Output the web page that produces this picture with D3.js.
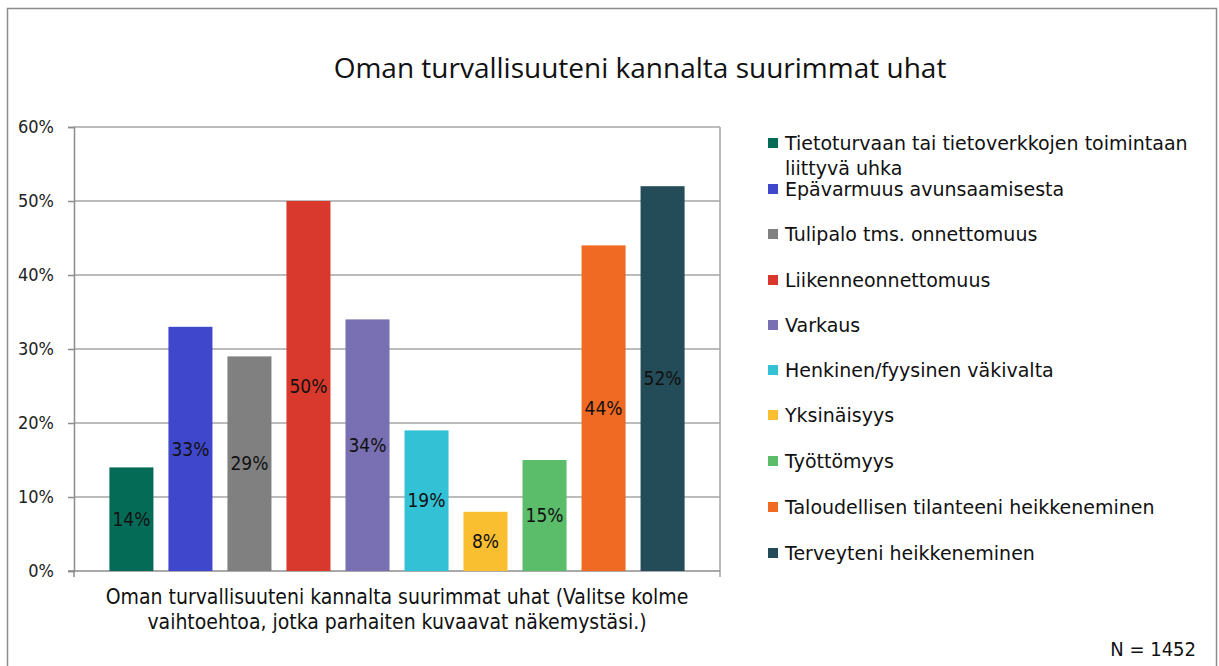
<!DOCTYPE html>
<html>
<head>
<meta charset="utf-8">
<script src="https://cdn.jsdelivr.net/npm/d3@7"></script>
<style>
  html, body { margin: 0; padding: 0; background: #fff; }
  svg { display: block; }
</style>
</head>
<body>
<div id="chart"></div>
<script>
// Chart data
const categories = [
  'Tietoturvaan tai tietoverkkojen toimintaan liittyvä uhka',
  'Epävarmuus avunsaamisesta',
  'Tulipalo tms. onnettomuus',
  'Liikenneonnettomuus',
  'Varkaus',
  'Henkinen/fyysinen väkivalta',
  'Yksinäisyys',
  'Työttömyys',
  'Taloudellisen tilanteeni heikkeneminen',
  'Terveyteni heikkeneminen'
];
const values = [14, 33, 29, 50, 34, 19, 8, 15, 44, 52];
const colors = ['#046b57', '#3f48cc', '#808080', '#d9392c', '#7870b2', '#33c1d6', '#f9bf30', '#5bbc6a', '#f06a24', '#244b58'];
const yTicks = [0, 10, 20, 30, 40, 50, 60];
const legendLines = [
  ['Tietoturvaan tai tietoverkkojen toimintaan', 'liittyvä uhka'],
  ['Epävarmuus avunsaamisesta'],
  ['Tulipalo tms. onnettomuus'],
  ['Liikenneonnettomuus'],
  ['Varkaus'],
  ['Henkinen/fyysinen väkivalta'],
  ['Yksinäisyys'],
  ['Työttömyys'],
  ['Taloudellisen tilanteeni heikkeneminen'],
  ['Terveyteni heikkeneminen']
];
const chartTitle = 'Oman turvallisuuteni kannalta suurimmat uhat';
const axisTitle = [
  'Oman turvallisuuteni kannalta suurimmat uhat (Valitse kolme',
  'vaihtoehtoa, jotka parhaiten kuvaavat näkemystäsi.)'
];
const note = 'N = 1452';

const width = 1219;
const height = 666;
const plot = { left: 74, right: 720, top: 127, bottom: 571 };
const gridColor = '#a6a6a6';
const labelFont = '"DejaVu Sans Condensed", "DejaVu Sans", sans-serif';

const svg = d3.select('#chart')
  .append('svg')
  .attr('width', width)
  .attr('height', height);

// Outer frame
svg.append('rect')
  .attr('x', 7.5)
  .attr('y', 8.5)
  .attr('width', 1209)
  .attr('height', 670)
  .attr('fill', '#fff')
  .attr('stroke', '#8c8c8c')
  .attr('stroke-width', 1.5);

// Title
svg.append('text')
  .attr('x', 640)
  .attr('y', 78)
  .attr('text-anchor', 'middle')
  .attr('font-family', '"Open Sans", sans-serif')
  .attr('font-size', '28px')
  .attr('fill', '#111')
  .text(chartTitle);

// Scales
const x = d3.scaleBand()
  .domain(categories)
  .range([plot.left, plot.right])
  .paddingInner(0.254)
  .paddingOuter(0.6);

const y = d3.scaleLinear()
  .domain([0, 60])
  .range([plot.bottom, plot.top]);

// Gridlines
svg.append('g')
  .attr('class', 'grid')
  .selectAll('line')
  .data(yTicks.slice(1))
  .join('line')
  .attr('x1', plot.left)
  .attr('x2', plot.right)
  .attr('y1', d => y(d))
  .attr('y2', d => y(d))
  .attr('stroke', gridColor)
  .attr('stroke-width', 1.5);

// Right plot border
svg.append('line')
  .attr('x1', plot.right)
  .attr('x2', plot.right)
  .attr('y1', plot.top)
  .attr('y2', plot.bottom + 6)
  .attr('stroke', gridColor)
  .attr('stroke-width', 1.5);

// Y axis
const yAxis = svg.append('g')
  .attr('transform', `translate(${plot.left},0)`)
  .call(d3.axisLeft(y).tickValues(yTicks).tickSize(6).tickPadding(14).tickFormat(d => d + '%'));
yAxis.select('.domain').attr('stroke', '#8c8c8c').attr('stroke-width', 1.5);
yAxis.selectAll('.tick line').attr('stroke', '#8c8c8c').attr('stroke-width', 1.5);
yAxis.selectAll('.tick text')
  .attr('font-family', labelFont)
  .attr('font-size', '18px')
  .attr('fill', '#222');

// X axis (single category, ticks only at ends)
svg.append('line')
  .attr('x1', plot.left - 6)
  .attr('x2', plot.right)
  .attr('y1', plot.bottom)
  .attr('y2', plot.bottom)
  .attr('stroke', '#8c8c8c')
  .attr('stroke-width', 1.5);
svg.append('line')
  .attr('x1', plot.left)
  .attr('x2', plot.left)
  .attr('y1', plot.bottom)
  .attr('y2', plot.bottom + 6)
  .attr('stroke', '#8c8c8c')
  .attr('stroke-width', 1.5);

// Bars
svg.append('g')
  .selectAll('rect')
  .data(categories)
  .join('rect')
  .attr('x', d => x(d))
  .attr('y', (d, i) => y(values[i]))
  .attr('width', x.bandwidth())
  .attr('height', (d, i) => y(0) - y(values[i]))
  .attr('fill', (d, i) => colors[i]);

// Value labels
svg.append('g')
  .selectAll('text')
  .data(categories)
  .join('text')
  .attr('x', d => x(d) + x.bandwidth() / 2)
  .attr('y', (d, i) => (y(values[i]) + y(0)) / 2)
  .attr('dy', '0.35em')
  .attr('text-anchor', 'middle')
  .attr('font-family', labelFont)
  .attr('font-size', '19px')
  .attr('fill', '#111')
  .text((d, i) => values[i] + '%');

// Axis title
svg.append('text')
  .attr('x', 397)
  .attr('y', 604)
  .attr('text-anchor', 'middle')
  .attr('font-family', labelFont)
  .attr('font-size', '21px')
  .attr('fill', '#111')
  .selectAll('tspan')
  .data(axisTitle)
  .join('tspan')
  .attr('x', 397)
  .attr('dy', (d, i) => i === 0 ? 0 : 25)
  .text(d => d);

// Legend
const legend = svg.append('g')
  .attr('transform', 'translate(768,0)');

const legendY = [143, 189, 234, 280, 325, 370, 415, 461, 507, 553];
const items = legend.selectAll('g')
  .data(categories)
  .join('g')
  .attr('transform', (d, i) => `translate(0,${legendY[i]})`);

items.append('rect')
  .attr('x', 0)
  .attr('y', -5)
  .attr('width', 10)
  .attr('height', 10)
  .attr('fill', (d, i) => colors[i]);

items.append('text')
  .attr('font-family', '"DejaVu Sans", sans-serif')
  .attr('font-size', '19px')
  .attr('fill', '#111')
  .selectAll('tspan')
  .data((d, i) => legendLines[i])
  .join('tspan')
  .attr('x', 17)
  .attr('y', (d, j) => j * 25)
  .attr('dy', '0.35em')
  .text(d => d);

// Sample size note
svg.append('text')
  .attr('x', 1196)
  .attr('y', 656)
  .attr('text-anchor', 'end')
  .attr('font-family', labelFont)
  .attr('font-size', '20px')
  .attr('fill', '#111')
  .text(note);
</script>
</body>
</html>
